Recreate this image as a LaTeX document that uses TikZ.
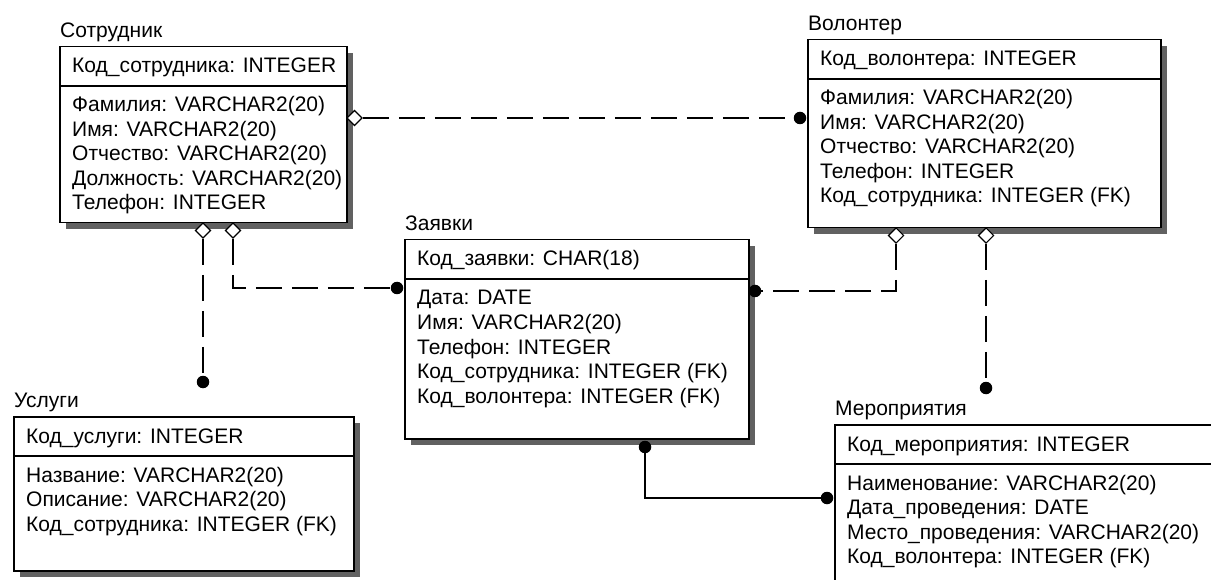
\documentclass[tikz,border=0pt]{standalone}
\usepackage{fontspec}
\setmainfont{Liberation Sans}
\usetikzlibrary{calc,shapes.geometric}
\newcommand{\ertbl}[8]{%
  \node[shadowbox, minimum width=#4pt, minimum height=#5pt] (#1-sh) at (#2+7,#3+7) {};
  \node[tbl, minimum width=#4pt, minimum height=#5pt] (#1) at (#2,#3) {};
  \draw[boxline] ($(#1.north west)+(0,40)$) coordinate (#1-sl) -- ($(#1.north east)+(0,40)$) coordinate (#1-sr);
  \node[ttl] (#1-title) at ($(#1.north west)+(1,-8.5)$) {#6};
  \node[fld] (#1-key) at ($(#1.north west)+(13,27)$) {#7};
  \foreach \f [count=\i] in {#8} \node[fld] (#1-f\i) at ($(#1.north west)+(13,41.5+24.5*\i)$) {\f};
}
\begin{document}
\begin{tikzpicture}[x=1pt,y=-1pt,
  boxline/.style={draw=black, line width=1.5pt},
  tbl/.style={boxline, fill=white, rectangle, anchor=north west, inner sep=0pt},
  shadowbox/.style={fill=black!62, draw=none, rectangle, anchor=north west, inner sep=0pt},
  ttl/.style={anchor=base west, inner sep=0pt, font=\fontsize{21}{24}\selectfont},
  fld/.style={anchor=base west, inner sep=0pt, font=\fontsize{21}{24}\selectfont},
  rel/.style={line width=1.3pt, dash pattern=on 26pt off 10pt},
  idrel/.style={line width=1.3pt},
  dot/.style={circle, fill=black, inner sep=0pt, minimum size=12.5pt},
  dia/.style={diamond, draw=black, fill=white, line width=1.1pt, inner sep=0pt, minimum size=15.5pt}
]
\fill[white] (0,0) rectangle (1211,580);
\useasboundingbox (0,0) rectangle (1211,580);

\ertbl{sotr}{59}{46}{287}{176}{Сотрудник}{Код\_сотрудника: INTEGER}%
  {Фамилия: VARCHAR2(20), Имя: VARCHAR2(20), Отчество: VARCHAR2(20), Должность: VARCHAR2(20), Телефон: INTEGER}
\ertbl{vol}{807}{39}{353}{188}{Волонтер}{Код\_волонтера: INTEGER}%
  {Фамилия: VARCHAR2(20), Имя: VARCHAR2(20), Отчество: VARCHAR2(20), Телефон: INTEGER, Код\_сотрудника: INTEGER (FK)}
\ertbl{zay}{404}{239}{344}{199}{Заявки}{Код\_заявки: CHAR(18)}%
  {Дата: DATE, Имя: VARCHAR2(20), Телефон: INTEGER, Код\_сотрудника: INTEGER (FK), Код\_волонтера: INTEGER (FK)}
\ertbl{usl}{13}{416}{340}{154}{Услуги}{Код\_услуги: INTEGER}%
  {Название: VARCHAR2(20), Описание: VARCHAR2(20), Код\_сотрудника: INTEGER (FK)}
\ertbl{mer}{834}{424}{400}{200}{Мероприятия}{Код\_мероприятия: INTEGER}%
  {Наименование: VARCHAR2(20), Дата\_проведения: DATE, Место\_проведения: VARCHAR2(20), Код\_волонтера: INTEGER (FK)}

% relationship ends
\node[dia] (d1) at (354.5,118) {};
\node[dia] (d2) at (203,230.5) {};
\node[dia] (d3) at (233,230.5) {};
\node[dia] (d4) at (896,235.5) {};
\node[dia] (d5) at (986,235.5) {};
\node[dot] (p1) at (800,118) {};
\node[dot] (p2) at (203,382) {};
\node[dot] (p3) at (397,288) {};
\node[dot] (p4) at (755,291) {};
\node[dot] (p5) at (986,388) {};
\node[dot] (p6) at (645,447) {};
\node[dot] (p7) at (827,498) {};

\draw[rel] (d1.east) -- (p1.center);
\draw[rel] (d2.south) -- (p2.center);
\draw[rel] (d3.south) |- (p3.center);
\draw[rel] (d4.south) |- (p4.center);
\draw[rel] (d5.south) -- (p5.center);
\draw[idrel] (p6.center) |- (p7.center);
\end{tikzpicture}
\end{document}
